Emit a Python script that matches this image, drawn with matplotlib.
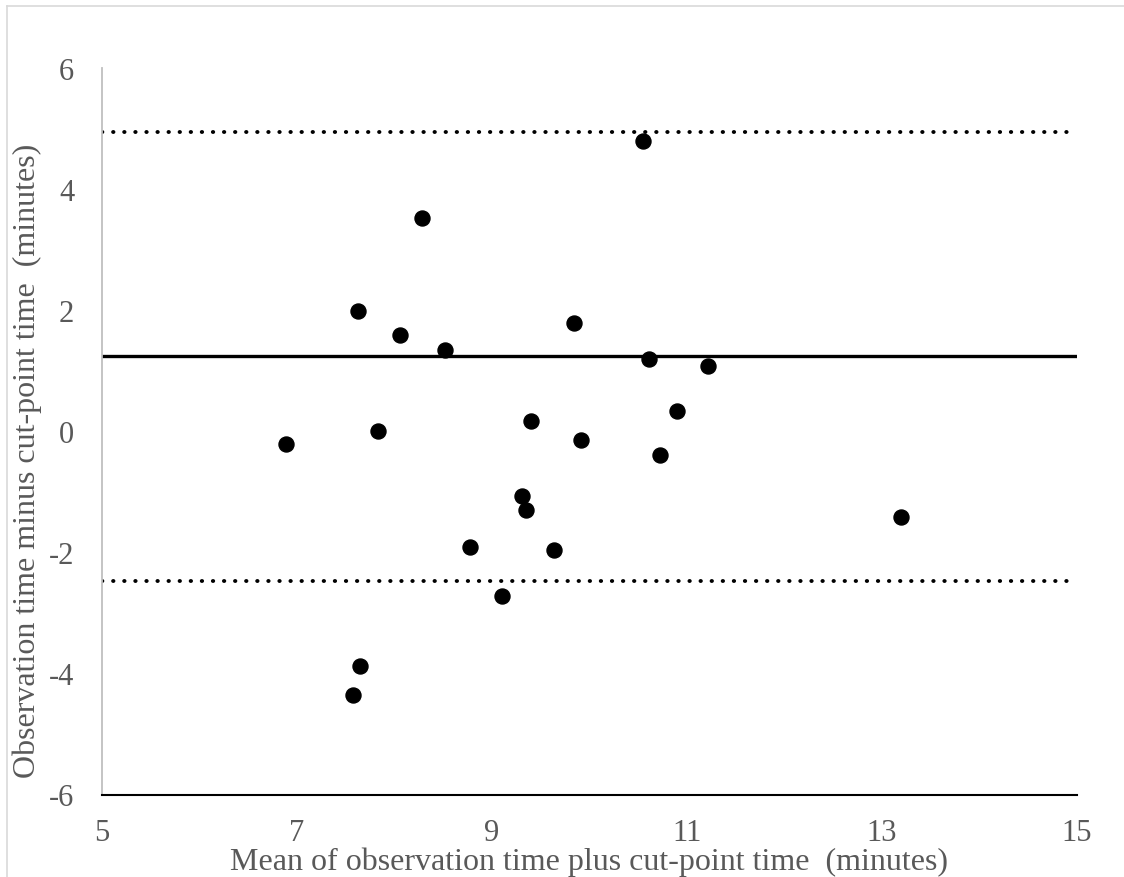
import numpy as np
import matplotlib
matplotlib.use('Agg')
import matplotlib.pyplot as plt
from matplotlib.lines import Line2D

# Bland-Altman style data
mean_time = [6.89, 7.63, 7.65, 7.57, 7.83, 8.06, 8.28, 8.52, 8.77, 9.10, 9.31,
             9.35, 9.40, 9.64, 9.84, 9.91, 10.55, 10.61, 10.72, 10.90, 11.22, 13.19]
diff_time = [-0.21, 1.99, -3.88, -4.36, 0.00, 1.59, 3.52, 1.35, -1.91, -2.72, -1.07,
             -1.30, 0.17, -1.96, 1.79, -0.15, 4.80, 1.20, -0.39, 0.33, 1.07, -1.42]
bias = 1.24
upper_loa = 4.94
lower_loa = -2.48
xticks = [5, 7, 9, 11, 13, 15]
yticks = [-6, -4, -2, 0, 2, 4, 6]

txtcol = '#595959'
plt.rcParams['font.family'] = ['Liberation Serif', 'DejaVu Serif']
plt.rcParams['axes.unicode_minus'] = False

fig = plt.figure(figsize=(11.24, 8.78), dpi=100)
ax = fig.add_axes([102/1124, 1-795.5/878, 975/1124, 726.5/878])

ax.axhline(bias, color='black', lw=2.4, zorder=2)
for v in [upper_loa, lower_loa]:
    ax.axhline(v, color='black', lw=2.8, linestyle=(0, (0.1, 2.75)),
               dash_capstyle='round', zorder=2)
ax.plot(mean_time, diff_time, 'o', color='black', ms=10.8, zorder=3)

ax.set_xlim(5, 15)
ax.set_ylim(-6, 6)
ax.set_xticks(xticks)
ax.set_yticks(yticks)
ax.tick_params(length=0, labelsize=22, colors=txtcol)
ax.tick_params(axis='y', pad=20)
ax.tick_params(axis='x', pad=17)

for s in ['top', 'right']:
    ax.spines[s].set_visible(False)
ax.spines['left'].set_color('#bfbfbf')
ax.spines['left'].set_linewidth(1.3)
ax.spines['bottom'].set_color('black')
ax.spines['bottom'].set_linewidth(1.5)

ax.set_xlabel('Mean of observation time plus cut-point time  (minutes)',
              fontsize=23, color=txtcol)
ax.xaxis.label.set_va('baseline')
ax.xaxis.set_label_coords(0.5, (795.5-870)/726.5)
ax.set_ylabel('Observation time minus cut-point time  (minutes)',
              fontsize=23, color=txtcol)
ax.yaxis.label.set_va('center')
ax.yaxis.set_label_coords((27-102)/975, 0.46)

# outer chart border (cut off at right and bottom)
fig.add_artist(Line2D([7/1124, 1], [1-7/878, 1-7/878], color='#d9d9d9', lw=1.2))
fig.add_artist(Line2D([7/1124, 7/1124], [0, 1-7/878], color='#d9d9d9', lw=1.2))

fig.savefig('out.png', dpi=100)
